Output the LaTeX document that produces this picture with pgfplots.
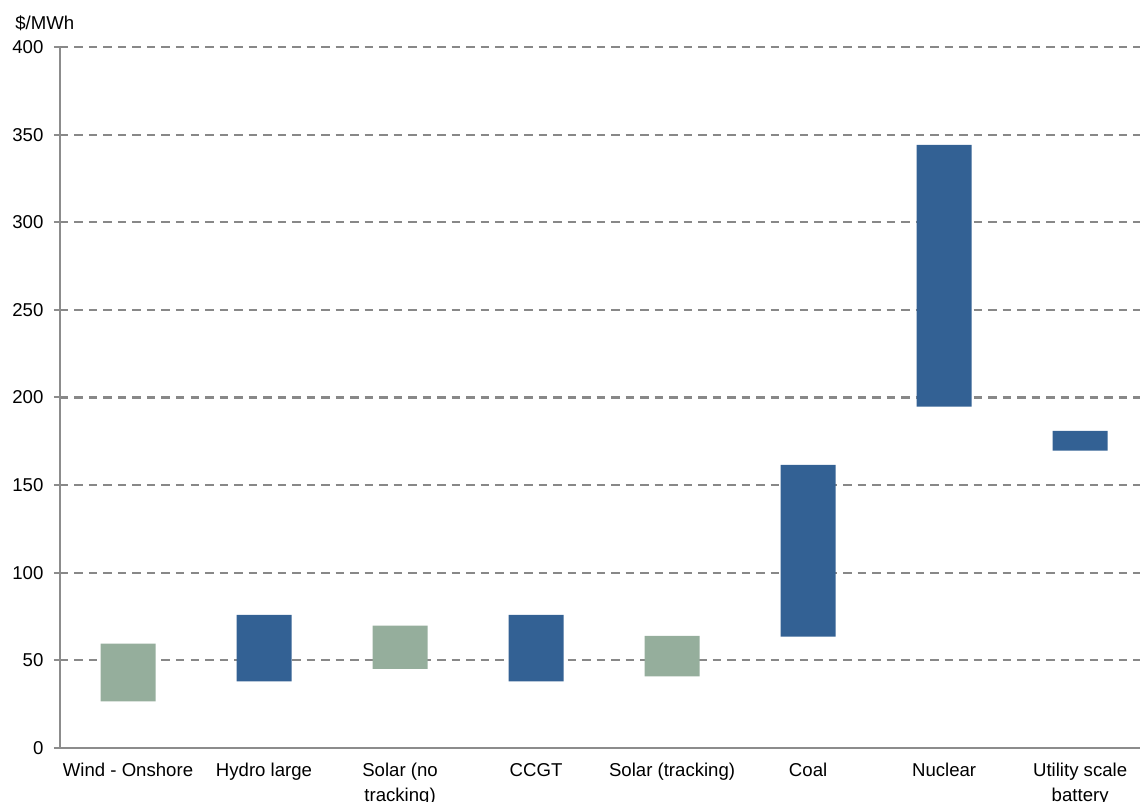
\documentclass[border=0pt]{standalone}
\usepackage{pgfplots}
\usepackage{pgfplotstable}
\pgfplotsset{compat=1.18}
\usepackage{fontspec}
\setmainfont{Liberation Sans}
\definecolor{barblue}{RGB}{51,97,148}
\definecolor{bargreen}{RGB}{149,174,156}
\definecolor{gridgray}{RGB}{136,136,136}
\definecolor{axgray}{RGB}{140,140,140}
\pgfplotstableread{
x low high g
0 26.6 59.5 1
1 38.0 76.0 0
2 45.2 69.8 1
3 38.0 76.0 0
4 40.8 64.0 1
5 63.6 161.6 0
6 194.8 344.1 0
7 169.7 181.0 0
}\costdata
\begin{document}
\fontsize{9.3}{11}\selectfont
\begin{tikzpicture}
\path[use as bounding box] (-30pt,-27pt) rectangle (540pt,374pt);
\begin{axis}[
  at={(0,0)}, anchor=south west,
  scale only axis,
  width=540pt, height=350.5pt,
  xmin=-0.5, xmax=7.44,
  ymin=0, ymax=400,
  ytick={0,50,...,400},
  axis lines*=left,
  axis line style={axgray, line width=1pt, -},
  ymajorgrids,
  grid style={gridgray, line width=1.1pt, dash pattern=on 4.25pt off 3pt},
  y tick style={axgray, line width=1pt},
  ytick align=outside,
  major tick length=3pt,
  xtick={0,...,7},
  xticklabels={\strut Wind - Onshore, \strut Hydro large, \strut Solar (no\\tracking), \strut CCGT, \strut Solar (tracking), \strut Coal, \strut Nuclear, \strut Utility scale\\battery},
  x tick style={draw=none},
  extra x ticks={-0.5,0.5,...,6.5},
  extra x tick labels={},
  extra x tick style={tick style={draw=axgray, line width=1pt}, tick align=outside, major tick length=3pt, grid=none},
  xticklabel style={align=center, font=\fontsize{9.3}{12.5}\selectfont, yshift=-3.5pt, inner sep=2pt},
  yticklabel style={font=\fontsize{9.3}{11}\selectfont, xshift=-2pt},
  /pgf/number format/assume math mode=true,
  ybar stacked,
  bar width=27.5pt,
  clip=false,
]
\addplot[draw=none, fill=none] table[x=x, y=low] {\costdata};
\addplot[draw=none, fill=bargreen] table[x=x, y expr={\thisrow{g}*(\thisrow{high}-\thisrow{low})}] {\costdata};
\addplot[draw=none, fill=barblue] table[x=x, y expr={(1-\thisrow{g})*(\thisrow{high}-\thisrow{low})}] {\costdata};
\end{axis}
\node[anchor=base west, inner sep=0pt, font=\fontsize{9.3}{11}\selectfont] at (-22.5pt,359pt) {\$/MWh};
\end{tikzpicture}
\end{document}
